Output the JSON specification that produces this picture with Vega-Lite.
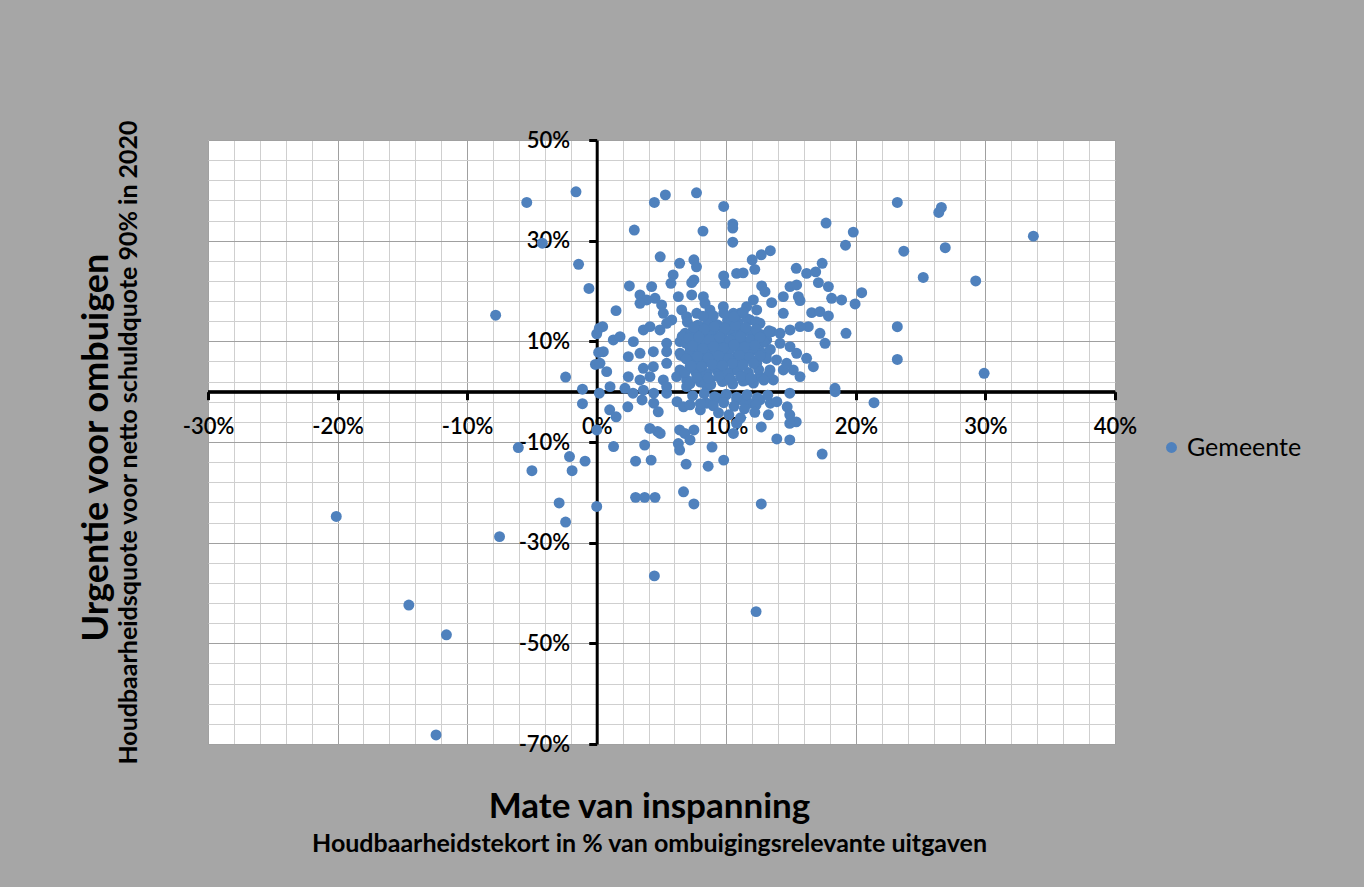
{
"$schema": "https://vega.github.io/schema/vega-lite/v6.json",
"width": 907, "height": 604,
"autosize": {"type": "none"},
"padding": {"left": 208, "top": 140, "right": 249, "bottom": 143},
"background": "#a6a6a6",
"config": {"view": {"fill": "white", "stroke": null}, "font": "Lato"},
"title": {"text": "Mate van inspanning", "subtitle": "Houdbaarheidstekort in % van ombuigingsrelevante uitgaven", "orient": "bottom", "anchor": "middle", "font": "Lato", "fontSize": 35, "fontWeight": "bold", "color": "black", "subtitleFont": "Lato", "subtitleFontSize": 25, "subtitleFontWeight": "bold", "subtitleColor": "black", "offset": 22, "subtitlePadding": 7, "dx": -12},
"layer": [
{"data": {"values": [{"nul": 0}]},
 "mark": {"type": "rule", "color": "black", "strokeWidth": 3},
 "encoding": {"y": {"field": "nul", "type": "quantitative", "scale": {"domain": [-70, 50], "nice": false, "zero": false},
   "axis": {"orient": "left", "title": "Houdbaarheidsquote  voor netto schuldquote 90% in 2020", "labels": false, "ticks": false, "domain": false, "grid": false, "titleFont": "Lato", "titleFontSize": 25, "titleFontWeight": "bold", "titleColor": "black", "titleAngle": 270, "titleX": -80, "titleY": 302, "titleAlign": "center", "titleBaseline": "middle"}}}},
{"data": {"values": [
{"x":-1.6,"y":39.7},{"x":-5.4,"y":37.6},{"x":-4.2,"y":29.5},{"x":-1.4,"y":25.3},{"x":-0.6,"y":20.5},{"x":-7.8,"y":15.2},{"x":0.0,"y":11.5},{"x":0.2,"y":12.6},{"x":0.15,"y":7.8},{"x":-0.1,"y":5.4},{"x":-2.4,"y":2.9},{"x":-1.1,"y":0.5},{"x":0.2,"y":-0.3},{"x":-1.1,"y":-2.4},{"x":0.0,"y":-7.6},{"x":-6.05,"y":-11.1},{"x":-2.1,"y":-12.9},{"x":-0.9,"y":-13.8},{"x":-5.0,"y":-15.7},{"x":-1.9,"y":-15.7},{"x":-20.1,"y":-24.8},{"x":-2.9,"y":-22.1},{"x":0.0,"y":-22.8},{"x":-2.4,"y":-25.9},{"x":-7.5,"y":-28.8},{"x":-14.5,"y":-42.4},{"x":-11.6,"y":-48.3},{"x":-12.4,"y":-68.2},{"x":4.45,"y":-36.6},{"x":12.3,"y":-43.7},{"x":23.2,"y":37.6},{"x":26.6,"y":36.6},{"x":26.4,"y":35.6},{"x":33.7,"y":30.9},{"x":23.7,"y":27.9},{"x":26.9,"y":28.6},{"x":25.2,"y":22.7},{"x":29.25,"y":22.0},{"x":23.2,"y":12.9},{"x":23.2,"y":6.4},{"x":29.9,"y":3.65},{"x":21.4,"y":-2.2},
{"x":2.9,"y":32.1},{"x":4.45,"y":37.6},{"x":5.3,"y":39.1},{"x":7.7,"y":39.5},{"x":9.8,"y":36.8},{"x":10.5,"y":33.3},{"x":10.5,"y":32.5},{"x":10.5,"y":29.7},{"x":8.2,"y":31.9},{"x":4.9,"y":26.8},{"x":6.4,"y":25.5},{"x":7.5,"y":26.2},{"x":7.7,"y":24.8},{"x":5.9,"y":23.2},{"x":7.5,"y":22.2},{"x":9.8,"y":23.0},{"x":10.8,"y":23.5},{"x":17.7,"y":33.5},{"x":19.8,"y":31.7},{"x":19.2,"y":29.1},{"x":13.4,"y":28.0},{"x":12.7,"y":27.2},{"x":12.0,"y":26.2},{"x":12.2,"y":24.3},{"x":11.3,"y":23.6},{"x":15.4,"y":24.5},{"x":16.2,"y":23.5},{"x":16.9,"y":23.8},{"x":17.4,"y":25.5},
{"x":1.3,"y":-10.9},{"x":3.0,"y":-13.8},{"x":4.2,"y":-13.6},{"x":3.7,"y":-10.6},{"x":4.1,"y":-7.3},{"x":4.7,"y":-7.9},{"x":4.9,"y":-8.3},{"x":6.4,"y":-7.6},{"x":6.8,"y":-8.3},{"x":7.5,"y":-7.6},{"x":6.3,"y":-10.3},{"x":6.4,"y":-11.6},{"x":7.2,"y":-9.6},{"x":6.9,"y":-14.4},{"x":8.9,"y":-11.0},{"x":8.6,"y":-14.8},{"x":9.8,"y":-13.6},{"x":3.0,"y":-21.0},{"x":3.7,"y":-21.0},{"x":4.5,"y":-21.0},{"x":6.7,"y":-19.9},{"x":7.5,"y":-22.3},{"x":1.0,"y":-3.6},{"x":1.5,"y":-5.0},{"x":2.4,"y":-3.0},{"x":3.5,"y":-1.65},{"x":4.4,"y":-2.3},{"x":4.75,"y":-4.0},{"x":10.55,"y":-8.3},{"x":10.8,"y":-6.3},{"x":2.8,"y":-0.3},{"x":3.6,"y":0.3},{"x":4.4,"y":-0.3},{"x":5.4,"y":-0.3},{"x":6.2,"y":-2.0},{"x":6.7,"y":-3.0},{"x":7.2,"y":-2.6},{"x":8.0,"y":-3.6},{"x":8.5,"y":-2.3},{"x":9.3,"y":-1.3},{"x":10.0,"y":-0.65},{"x":10.8,"y":-1.65},
{"x":11.2,"y":-1.65},{"x":11.8,"y":-2.3},{"x":12.6,"y":-1.65},{"x":13.4,"y":-2.3},{"x":13.9,"y":-2.0},{"x":14.7,"y":-3.0},{"x":14.9,"y":-4.6},{"x":15.4,"y":-6.0},{"x":14.9,"y":-6.3},{"x":12.7,"y":-7.0},{"x":13.25,"y":-4.6},{"x":13.9,"y":-9.4},{"x":14.9,"y":-9.6},{"x":17.4,"y":-12.4},{"x":12.7,"y":-22.3},{"x":18.4,"y":0.0},{"x":14.9,"y":-0.3},
{"x":12.73,"y":21.0},{"x":12.99,"y":19.87},{"x":14.92,"y":20.87},{"x":15.43,"y":21.2},{"x":17.11,"y":21.66},{"x":17.88,"y":20.87},{"x":20.45,"y":19.67},{"x":14.4,"y":18.88},{"x":15.56,"y":18.88},{"x":15.69,"y":18.09},{"x":13.5,"y":17.69},{"x":18.13,"y":18.55},{"x":18.9,"y":18.22},{"x":19.94,"y":17.43},{"x":14.4,"y":15.57},{"x":16.59,"y":15.7},{"x":17.23,"y":15.9},{"x":17.88,"y":15.04},{"x":19.24,"y":11.59},{"x":17.62,"y":9.61},{"x":17.23,"y":11.59},{"x":16.33,"y":12.92},{"x":15.69,"y":12.92},{"x":14.92,"y":12.26},{"x":14.15,"y":11.59},{"x":13.5,"y":11.92},{"x":12.09,"y":18.22},{"x":11.57,"y":16.89},{"x":12.35,"y":16.23},{"x":11.06,"y":15.57},{"x":11.83,"y":14.24},{"x":12.6,"y":13.58},{"x":11.32,"y":12.26},{"x":12.09,"y":10.93},{"x":13.12,"y":10.27},{"x":14.15,"y":9.61},{"x":14.92,"y":8.94},{"x":15.43,"y":7.62},{"x":16.2,"y":6.63},{"x":16.72,"y":4.97},{"x":15.17,"y":4.31},{"x":14.4,"y":4.31},{"x":13.37,"y":4.31},{"x":12.35,"y":5.63},{"x":11.57,"y":6.96},{"x":11.06,"y":8.94},{"x":12.09,"y":8.28},{"x":13.12,"y":7.62},{"x":13.88,"y":6.3},{"x":14.66,"y":5.63},{"x":15.69,"y":2.99},{"x":13.63,"y":2.33},{"x":12.6,"y":2.99},{"x":11.57,"y":2.33},{"x":18.39,"y":0.67},
{"x":2.52,"y":21.0},{"x":4.24,"y":20.87},{"x":5.73,"y":21.53},{"x":7.33,"y":21.66},{"x":9.9,"y":21.53},{"x":3.34,"y":19.21},{"x":3.86,"y":18.22},{"x":4.5,"y":18.55},{"x":6.3,"y":18.88},{"x":7.33,"y":19.21},{"x":8.23,"y":18.88},{"x":8.36,"y":17.56},{"x":5.01,"y":17.23},{"x":3.34,"y":17.56},{"x":1.49,"y":16.1},{"x":5.14,"y":15.57},{"x":5.79,"y":14.24},{"x":6.56,"y":16.23},{"x":6.94,"y":14.91},{"x":7.72,"y":15.57},{"x":8.74,"y":16.23},{"x":9.77,"y":16.89},{"x":10.55,"y":15.57},{"x":0.46,"y":12.92},{"x":1.28,"y":10.27},{"x":1.8,"y":10.93},{"x":2.83,"y":9.94},{"x":3.6,"y":12.26},{"x":4.11,"y":12.92},{"x":4.88,"y":12.26},{"x":5.4,"y":13.58},{"x":6.82,"y":11.59},{"x":7.46,"y":12.26},{"x":7.97,"y":12.92},{"x":8.49,"y":10.93},{"x":9.0,"y":12.26},{"x":9.52,"y":12.92},{"x":10.29,"y":13.58},{"x":10.8,"y":12.26},{"x":5.4,"y":9.61},{"x":6.43,"y":9.94},{"x":7.2,"y":8.94},{"x":7.97,"y":8.94},{"x":8.74,"y":9.61},{"x":9.52,"y":9.28},{"x":10.29,"y":9.61},{"x":10.8,"y":8.94},{"x":0.51,"y":7.95},{"x":2.44,"y":6.96},{"x":3.34,"y":7.62},{"x":4.37,"y":7.95},{"x":5.4,"y":7.95},{"x":6.43,"y":7.62},{"x":7.46,"y":7.29},{"x":8.23,"y":6.96},{"x":9.26,"y":7.62},{"x":10.03,"y":6.96},{"x":10.8,"y":6.96},{"x":0.25,"y":5.63},{"x":0.77,"y":3.98},{"x":3.6,"y":4.64},{"x":4.37,"y":4.97},{"x":5.4,"y":5.63},{"x":6.43,"y":4.31},{"x":7.2,"y":4.97},{"x":8.23,"y":5.63},{"x":9.0,"y":4.97},{"x":9.77,"y":4.97},{"x":10.55,"y":4.31},{"x":2.44,"y":2.99},{"x":3.34,"y":2.33},{"x":4.11,"y":2.99},{"x":5.14,"y":2.33},{"x":6.17,"y":2.99},{"x":6.94,"y":2.33},{"x":7.97,"y":3.32},{"x":8.74,"y":2.33},{"x":9.52,"y":2.99},{"x":10.42,"y":1.99},{"x":1.03,"y":1.0},{"x":2.18,"y":0.67},{"x":5.4,"y":1.0},{"x":6.94,"y":1.0},{"x":8.49,"y":1.0},
{"x":7.0,"y":13.8},{"x":7.8,"y":13.2},{"x":8.6,"y":13.9},{"x":9.3,"y":13.3},{"x":10.1,"y":14.2},{"x":10.9,"y":13.7},{"x":11.6,"y":14.5},{"x":12.3,"y":13.9},{"x":6.6,"y":11.0},{"x":7.3,"y":11.6},{"x":8.1,"y":11.2},{"x":8.9,"y":11.8},{"x":9.7,"y":11.3},{"x":10.4,"y":11.9},{"x":11.2,"y":11.4},{"x":11.9,"y":11.9},{"x":12.7,"y":11.3},{"x":13.3,"y":12.1},{"x":6.9,"y":9.6},{"x":7.7,"y":10.1},{"x":8.4,"y":9.9},{"x":9.1,"y":10.4},{"x":9.9,"y":10.1},{"x":10.6,"y":10.6},{"x":11.4,"y":10.0},{"x":12.2,"y":10.5},{"x":12.9,"y":9.8},{"x":6.5,"y":7.2},{"x":7.2,"y":8.0},{"x":8.0,"y":7.7},{"x":8.8,"y":8.2},{"x":9.6,"y":7.9},{"x":10.3,"y":8.5},{"x":11.1,"y":8.1},{"x":11.9,"y":8.6},{"x":12.6,"y":8.0},{"x":13.4,"y":8.4},{"x":7.6,"y":5.9},{"x":8.4,"y":6.3},{"x":9.2,"y":5.8},{"x":9.9,"y":6.4},{"x":10.7,"y":5.9},{"x":11.5,"y":6.5},{"x":12.3,"y":6.1},{"x":13.1,"y":6.6},{"x":6.8,"y":3.8},{"x":7.6,"y":4.1},{"x":8.5,"y":3.6},{"x":9.3,"y":4.2},{"x":10.1,"y":3.7},{"x":10.9,"y":4.3},{"x":11.7,"y":3.8},{"x":12.5,"y":4.4},{"x":13.3,"y":3.5},{"x":7.2,"y":1.6},{"x":8.0,"y":1.9},{"x":8.8,"y":1.4},{"x":9.7,"y":2.0},{"x":10.5,"y":1.5},{"x":11.3,"y":2.1},{"x":12.1,"y":1.7},{"x":12.9,"y":2.3},{"x":7.4,"y":-0.8},{"x":8.3,"y":-0.4},{"x":9.1,"y":-1.0},{"x":10.0,"y":-0.5},{"x":10.8,"y":-1.1},{"x":11.6,"y":-0.6},{"x":12.4,"y":-1.2},{"x":13.2,"y":-0.7},{"x":8.0,"y":-2.4},{"x":9.0,"y":-2.8},{"x":9.8,"y":-2.2},{"x":10.6,"y":-2.9},{"x":11.4,"y":-3.4},{"x":12.3,"y":-2.6},{"x":9.4,"y":-4.2},{"x":10.2,"y":-4.6},{"x":11.1,"y":-5.2},{"x":12.2,"y":-4.1},
{"x":7.5,"y":12.8},{"x":8.3,"y":12.4},{"x":9.1,"y":12.9},{"x":9.9,"y":12.6},{"x":10.7,"y":13.1},{"x":11.5,"y":12.7},{"x":12.3,"y":12.4},{"x":7.1,"y":10.6},{"x":7.9,"y":10.9},{"x":8.7,"y":10.3},{"x":9.5,"y":10.8},{"x":10.3,"y":10.2},{"x":11.1,"y":10.9},{"x":11.9,"y":10.3},{"x":12.6,"y":10.8},{"x":7.4,"y":9.1},{"x":8.2,"y":8.6},{"x":9.0,"y":9.0},{"x":9.8,"y":8.7},{"x":10.6,"y":9.3},{"x":11.4,"y":8.9},{"x":12.2,"y":9.2},{"x":6.9,"y":6.5},{"x":7.8,"y":7.0},{"x":8.6,"y":6.7},{"x":9.4,"y":7.1},{"x":10.2,"y":6.6},{"x":11.0,"y":7.2},{"x":11.8,"y":6.8},{"x":12.6,"y":7.1},{"x":7.3,"y":5.1},{"x":8.1,"y":5.0},{"x":8.9,"y":5.4},{"x":9.7,"y":5.2},{"x":10.5,"y":5.6},{"x":11.3,"y":5.3},{"x":12.1,"y":5.6},{"x":7.7,"y":2.8},{"x":8.6,"y":2.7},{"x":9.4,"y":3.0},{"x":10.3,"y":2.6},{"x":11.1,"y":3.0},{"x":11.9,"y":2.7},{"x":9.0,"y":15.1},{"x":9.8,"y":15.6},{"x":10.6,"y":14.9},{"x":8.2,"y":15.0},{"x":11.3,"y":15.8}
 ]},
 "mark": {"type": "circle", "size": 120, "opacity": 1},
 "encoding": {
  "x": {"field": "x", "type": "quantitative", "scale": {"domain": [-30, 40], "nice": false, "zero": false},
   "axis": {"values": [-30,-28,-26,-24,-22,-20,-18,-16,-14,-12,-10,-8,-6,-4,-2,0,2,4,6,8,10,12,14,16,18,20,22,24,26,28,30,32,34,36,38,40],
    "offset": -352.33, "domain": true, "domainColor": "black", "domainWidth": 3, "grid": true,
    "gridColor": {"condition": {"test": "datum.value % 10 === 0", "value": "#a0a0a0"}, "value": "#cfcfcf"}, "gridWidth": 1,
    "ticks": true, "tickColor": "black", "tickWidth": 3, "tickSize": 8,
    "tickOpacity": {"condition": {"test": "datum.value % 10 === 0", "value": 1}, "value": 0},
    "labelExpr": "datum.value % 10 === 0 ? datum.value + '%' : ''",
    "labelFont": "Lato", "labelFontSize": 22, "labelFontWeight": 600, "labelColor": "black", "labelPadding": 17, "labelFlush": false, "labelOverlap": false, "title": null}},
  "y": {"field": "y", "type": "quantitative", "scale": {"domain": [-70, 50], "nice": false, "zero": false},
   "axis": {"orient": "left", "values": [-70,-66,-62,-58,-54,-50,-46,-42,-38,-34,-30,-26,-22,-18,-14,-10,-6,-2,2,6,10,14,18,22,26,30,34,38,42,46,50],
    "offset": -388.71, "domain": true, "domainColor": "black", "domainWidth": 3, "grid": true,
    "gridColor": {"condition": {"test": "(datum.value + 70) % 20 === 0", "value": "#a0a0a0"}, "value": "#cfcfcf"}, "gridWidth": 1,
    "ticks": true, "tickColor": "black", "tickWidth": 3, "tickSize": 8,
    "tickOpacity": {"condition": {"test": "(datum.value + 70) % 20 === 0", "value": 1}, "value": 0},
    "labelExpr": "(datum.value + 70) % 20 === 0 ? datum.value + '%' : ''",
    "labelFont": "Lato", "labelFontSize": 22, "labelFontWeight": 600, "labelColor": "black", "labelPadding": 19, "labelFlush": false, "labelOverlap": false,
    "title": "Urgentie voor ombuigen", "titleFont": "Lato", "titleFontSize": 36, "titleFontWeight": "bold", "titleColor": "black", "titleAngle": 270, "titleX": -500, "titleY": 307, "titleAlign": "center", "titleBaseline": "middle"}},
  "color": {"datum": "Gemeente", "type": "nominal", "scale": {"range": ["#4f81bd"]},
   "legend": {"orient": "none", "legendX": 951, "legendY": 295, "title": null, "labelFont": "Lato", "labelFontSize": 25, "labelColor": "black", "symbolType": "circle", "symbolSize": 120, "symbolStrokeWidth": 0, "padding": 0, "labelOffset": 3}}
 }}
],
"resolve": {"axis": {"y": "independent"}}
}
